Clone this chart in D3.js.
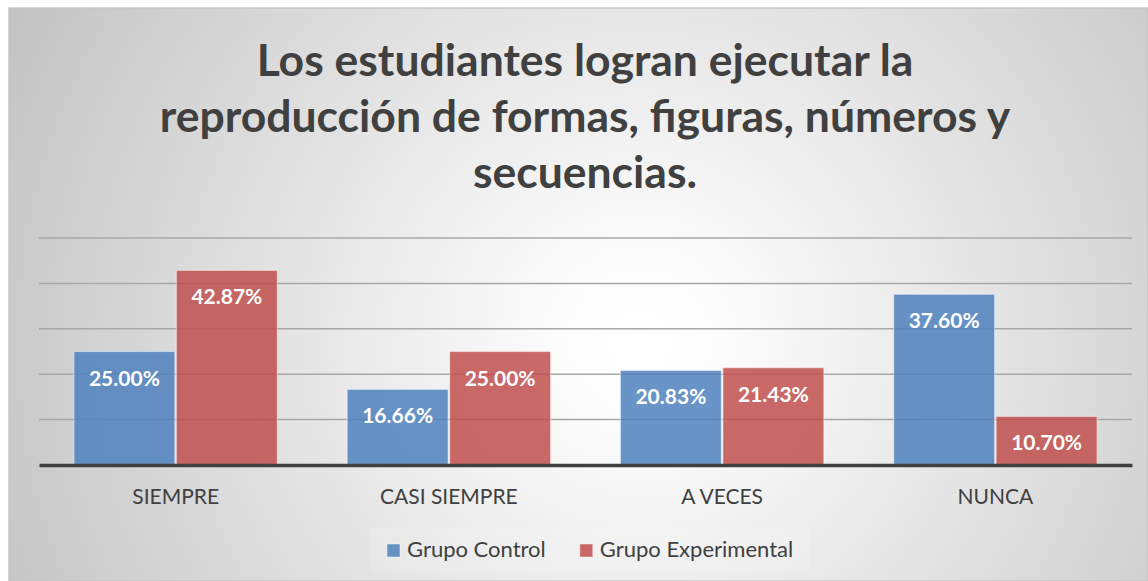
<!DOCTYPE html>
<html lang="es">
<head>
<meta charset="UTF-8">
<title>Reproducción de formas</title>
<script src="https://d3js.org/d3.v7.min.js"></script>
<style>
  html, body { margin: 0; padding: 0; background: #fff; }
  svg { display: block; }
  text { font-family: Lato, "Open Sans", sans-serif; }
</style>
</head>
<body>
<div id="chart"></div>
<script>
// data
var categories = ["SIEMPRE", "CASI SIEMPRE", "A VECES", "NUNCA"];
var series = ["Grupo Control", "Grupo Experimental"];
var control = [25.00, 16.66, 20.83, 37.60];
var experimental = [42.87, 25.00, 21.43, 10.70];
var yTicks = [0, 10, 20, 30, 40, 50];
var titleLines = ["Los estudiantes logran ejecutar la",
                  "reproducción de formas, figuras, números y",
                  "secuencias."];

var width = 1148, height = 581;
var colors = ["#4f81bd", "#c0504d"];

var svg = d3.select("#chart").append("svg")
    .attr("width", width)
    .attr("height", height);

// background gradient (white centre, grey edges)
var defs = svg.append("defs");
var grad = defs.append("radialGradient")
    .attr("id", "bg")
    .attr("gradientUnits", "userSpaceOnUse")
    .attr("cx", 640).attr("cy", 340).attr("r", 720);
grad.append("stop").attr("offset", "0").attr("stop-color", "#ffffff");
grad.append("stop").attr("offset", "0.12").attr("stop-color", "#fcfcfc");
grad.append("stop").attr("offset", "0.55").attr("stop-color", "#e0e0e0");
grad.append("stop").attr("offset", "1").attr("stop-color", "#c2c2c2");

svg.append("rect")
    .attr("x", 9).attr("y", 8)
    .attr("width", width - 9).attr("height", height - 8)
    .attr("fill", "url(#bg)")
    .attr("stroke", "#c6c6c6")
    .attr("stroke-width", 1.5);

// title
var title = svg.append("g").attr("class", "title");
titleLines.forEach(function(t, i) {
  title.append("text")
      .attr("x", 585)
      .attr("y", 76 + i * 56)
      .attr("text-anchor", "middle")
      .attr("font-size", 44.5)
      .attr("font-weight", "bold")
      .attr("fill", "#404040")
      .text(t);
});

// scales
var x0 = d3.scaleBand()
    .domain(categories)
    .range([39, 1132])
    .paddingInner(0.25)
    .paddingOuter(0.125);

var x1 = d3.scaleBand()
    .domain(series)
    .range([0, x0.bandwidth()]);

var y = d3.scaleLinear()
    .domain([0, 50])
    .range([465, 238]);

// gridlines
svg.append("g")
    .selectAll("line")
    .data(yTicks.slice(1))
    .enter()
    .append("line")
    .attr("x1", 39).attr("x2", 1132)
    .attr("y1", function(d) { return y(d); })
    .attr("y2", function(d) { return y(d); })
    .attr("stroke", "#a8a8a8")
    .attr("stroke-width", 1.5);

// bars
var rows = categories.map(function(c, i) {
  return { cat: c, vals: [
    { s: series[0], v: control[i] },
    { s: series[1], v: experimental[i] }
  ]};
});

var groups = svg.append("g")
    .selectAll("g")
    .data(rows)
    .enter()
    .append("g")
    .attr("transform", function(d) { return "translate(" + x0(d.cat) + ",0)"; });

groups.selectAll("rect")
    .data(function(d) { return d.vals; })
    .enter()
    .append("rect")
    .attr("x", function(d) { return x1(d.s) + 0.75; })
    .attr("y", function(d) { return y(d.v); })
    .attr("width", x1.bandwidth() - 1.5)
    .attr("height", function(d) { return y(0) - y(d.v); })
    .attr("fill", function(d, i) { return colors[i]; })
    .attr("fill-opacity", 0.85)
    .attr("stroke", "#ffffff")
    .attr("stroke-opacity", 0.45)
    .attr("stroke-width", 1.2);

groups.selectAll("text")
    .data(function(d) { return d.vals; })
    .enter()
    .append("text")
    .attr("x", function(d) { return x1(d.s) + x1.bandwidth() / 2; })
    .attr("y", function(d) { return y(d.v) + 34; })
    .attr("text-anchor", "middle")
    .attr("font-size", 21)
    .attr("font-weight", "bold")
    .attr("fill", "#ffffff")
    .text(function(d) { return d.v.toFixed(2) + "%"; });

// baseline axis
var xAxis = svg.append("g")
    .attr("transform", "translate(0," + y(0) + ")")
    .call(d3.axisBottom(x0).tickSize(0).tickPadding(24));
xAxis.select(".domain")
    .attr("stroke", "#404040")
    .attr("stroke-width", 3.5);
xAxis.selectAll(".tick text")
    .attr("font-family", "Lato, 'Open Sans', sans-serif")
    .attr("font-size", 21)
    .attr("fill", "#404040");

// legend
svg.append("rect")
    .attr("x", 370).attr("y", 528)
    .attr("width", 440).attr("height", 44)
    .attr("fill", "#ffffff")
    .attr("fill-opacity", 0.12);

var legend = svg.append("g");
var lx = 387;
series.forEach(function(s, i) {
  legend.append("rect")
      .attr("x", lx).attr("y", 544)
      .attr("width", 13).attr("height", 13)
      .attr("fill", colors[i])
      .attr("fill-opacity", 0.85)
      .attr("stroke", "#ffffff")
      .attr("stroke-opacity", 0.45);
  var t = legend.append("text")
      .attr("x", lx + 20)
      .attr("y", 557)
      .attr("font-size", 22)
      .attr("fill", "#404040")
      .text(s);
  lx += 20 + t.node().getComputedTextLength() + 34;
});
</script>
</body>
</html>
